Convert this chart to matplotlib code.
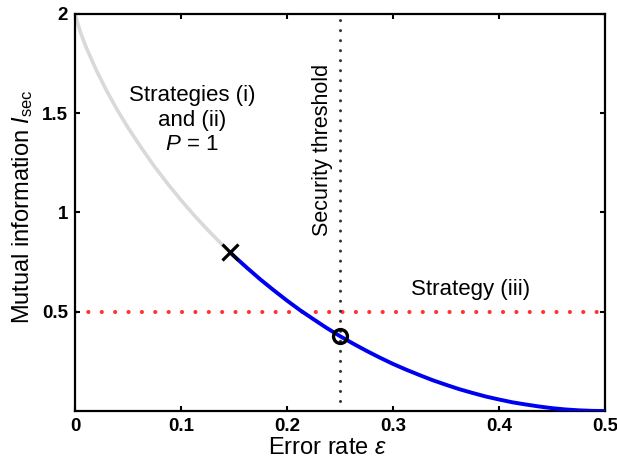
import matplotlib
matplotlib.use("Agg")
import matplotlib.pyplot as plt

plt.rcParams['font.family'] = ['Liberation Sans', 'DejaVu Sans']
plt.rcParams['mathtext.fontset'] = 'custom'
plt.rcParams['mathtext.rm'] = 'Liberation Sans'
plt.rcParams['mathtext.it'] = 'Liberation Sans:italic'
plt.rcParams['mathtext.bf'] = 'Liberation Sans:bold'

# Curve values (error rate vs mutual information)
eps_gray = [0.0, 0.005, 0.01, 0.02, 0.03, 0.04, 0.05, 0.0625, 0.075, 0.0875,
            0.1, 0.1125, 0.125, 0.1375, 0.146]
info_gray = [2.0, 1.909, 1.838, 1.717, 1.611, 1.515, 1.427, 1.326, 1.231, 1.144,
             1.062, 0.985, 0.913, 0.845, 0.800]
eps_blue = [0.146, 0.15, 0.1625, 0.175, 0.1875, 0.2, 0.2125, 0.225, 0.2375, 0.25,
            0.2625, 0.275, 0.2875, 0.3, 0.3125, 0.325, 0.3375, 0.35, 0.3625, 0.375,
            0.3875, 0.4, 0.4125, 0.425, 0.4375, 0.45, 0.4625, 0.475, 0.4875, 0.5]
info_blue = [0.800, 0.780, 0.720, 0.662, 0.608, 0.556, 0.507, 0.462, 0.418, 0.377,
             0.339, 0.303, 0.269, 0.237, 0.208, 0.181, 0.155, 0.132, 0.110, 0.091,
             0.073, 0.058, 0.044, 0.033, 0.023, 0.0144, 0.008, 0.0036, 0.0009, 0.0]

cross_pt = (0.146, 0.800)
circle_pt = (0.25, 0.377)
threshold_eps = 0.25
strategy3_level = 0.5

xticks = [0, 0.1, 0.2, 0.3, 0.4, 0.5]
xticklabels = ['0', '0.1', '0.2', '0.3', '0.4', '0.5']
yticks = [0.5, 1, 1.5, 2]
yticklabels = ['0.5', '1', '1.5', '2']

fig = plt.figure(figsize=(6.17, 4.65), dpi=100)
ax = fig.add_axes([0.1216, 0.1161, 0.859, 0.854])

ax.plot(eps_gray, info_gray, color='#d9d9d9', lw=2.6, solid_capstyle='butt', zorder=2)
ax.plot(eps_blue, info_blue, color='#0000f0', lw=2.8, solid_capstyle='butt', zorder=3)

ax.axhline(strategy3_level, color='#ff3333', lw=3.0, linestyle=(0, (0.01, 3.2)),
           dash_capstyle='round', zorder=1)
ax.axvline(threshold_eps, color='#333333', lw=2.2, linestyle=(0, (0.01, 3.27)),
           dash_capstyle='round', zorder=1)

ax.plot([cross_pt[0]], [cross_pt[1]], marker='x', color='black', ms=11.5, mew=2.3, zorder=5)
ax.plot([circle_pt[0]], [circle_pt[1]], marker='o', mfc='none', mec='black', ms=10, mew=2.4, zorder=5)

ax.text(0.1104, 1.465, 'Strategies (i)\nand (ii)\n$P$ = 1', ha='center', va='center',
        fontsize=16, linespacing=1.2)
ax.text(0.233, 1.315, 'Security threshold', rotation=90, ha='center', va='center', fontsize=15.5)
ax.text(0.373, 0.61, 'Strategy (iii)', ha='center', va='center', fontsize=16)

ax.set_xlim(0, 0.5)
ax.set_ylim(0, 2)
ax.set_xticks(xticks)
ax.set_xticklabels(xticklabels, fontweight='bold', fontsize=13.5)
ax.set_yticks(yticks)
ax.set_yticklabels(yticklabels, fontweight='bold', fontsize=13.5)
ax.tick_params(direction='in', length=3.6, width=1.5, top=True, right=True, pad=5)
for s in ax.spines.values():
    s.set_linewidth(1.6)

ax.set_xlabel(r'Error rate $\varepsilon$', fontsize=17, labelpad=4)
ax.set_ylabel(r'Mutual information $I_{\rm sec}$', fontsize=17, labelpad=5)
ax.xaxis.set_label_coords(0.477, -0.065)
ax.yaxis.set_label_coords(-0.075, 0.515)

fig.savefig('out.png', dpi=100)
